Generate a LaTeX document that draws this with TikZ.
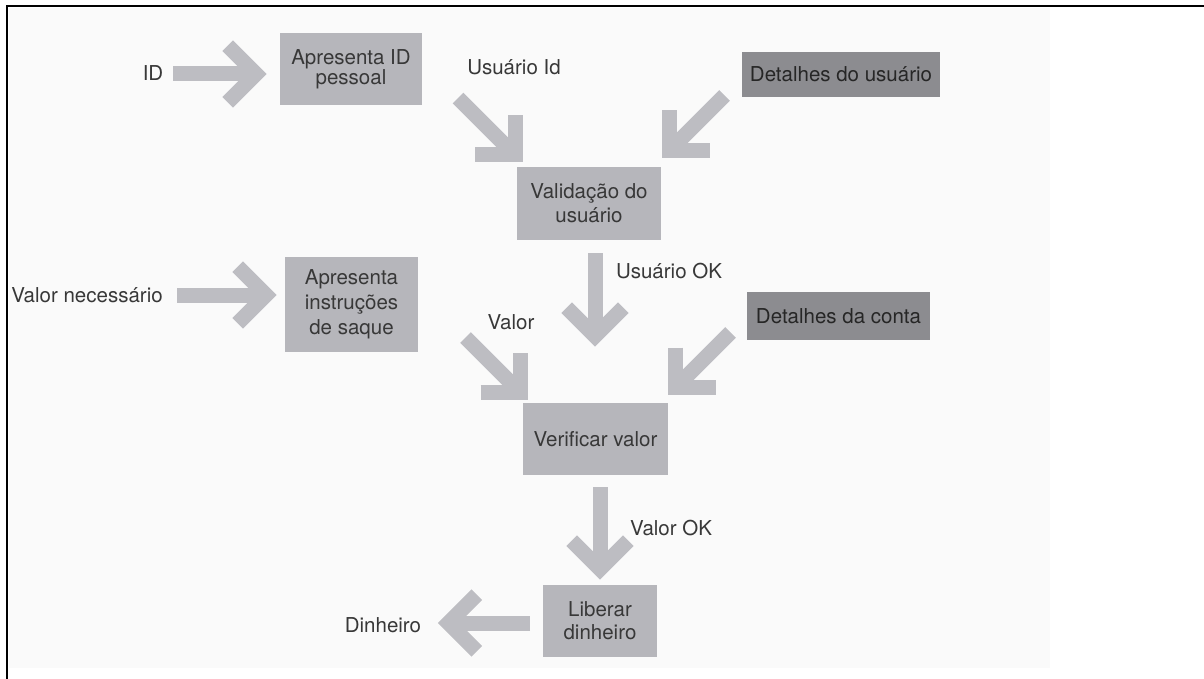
\documentclass[tikz,border=0pt]{standalone}
\usepackage{fontspec}
\setmainfont{TeX Gyre Heros}
\usetikzlibrary{calc}
\definecolor{arrowgray}{HTML}{BDBDC2}
\definecolor{boxgray}{HTML}{B6B6BB}
\definecolor{darkbox}{HTML}{8C8C90}
\definecolor{txt}{HTML}{383838}
\definecolor{paper}{HTML}{FAFAFA}
\tikzset{
  every node/.style={font=\fontsize{20.5}{22}\selectfont, text=txt},
  procbox/.style={fill=boxgray, inner sep=0pt, align=center},
  databox/.style={fill=darkbox, inner sep=0pt, align=center, text=black!85},
  lbl/.style={inner sep=0pt},
  fshaft/.style={draw=arrowgray, line width=15pt, line cap=butt},
  fchev/.style={draw=arrowgray, line width=15pt, line cap=butt, line join=miter},
}
\newcommand\fatarrow[2]{%
  \draw[fshaft] (#1) -- (#2);
  \draw[fchev] ($(#2)!40pt!45:(#1)$) -- (#2) -- ($(#2)!40pt!-45:(#1)$);
}
\begin{document}
\begin{tikzpicture}[x=1pt,y=-1pt]
\useasboundingbox (0,0) rectangle (1204,679);
\fill[paper] (9,8) rectangle (1050,668);
\draw[line width=2pt] (7,679) -- (7,6) -- (1204,6);

% process boxes
\node[procbox, minimum width=142pt, minimum height=72pt, font=\fontsize{20.5}{18}\selectfont] (b1) at (351,69) {Apresenta ID\\pessoal};
\node[procbox, minimum width=144pt, minimum height=73pt, font=\fontsize{20.5}{24}\selectfont] (b2) at (589,203.5) {Validação do\\usuário};
\node[procbox, minimum width=133pt, minimum height=95pt, font=\fontsize{20.5}{25}\selectfont] (b3) at (351.5,304.5) {Apresenta\\instruções\\de saque};
\node[procbox, minimum width=145pt, minimum height=72pt] (b4) at (595.5,439) {Verificar valor};
\node[procbox, minimum width=114pt, minimum height=72pt, font=\fontsize{20.5}{23}\selectfont] (b5) at (600,621) {Liberar\\dinheiro};
% data boxes
\node[databox, minimum width=198pt, minimum height=45pt] (d1) at (841,74.5) {Detalhes do usuário};
\node[databox, minimum width=183pt, minimum height=48pt] (d2) at (838.5,316) {Detalhes da conta};

% labels
\node[lbl] (lid) at (153,73) {ID};
\node[lbl] (luid) at (514,67) {Usuário Id};
\node[lbl] (lvn) at (87,295) {Valor necessário};
\node[lbl] (luok) at (669,271) {Usuário OK};
\node[lbl] (lval) at (511,322) {Valor};
\node[lbl] (lvok) at (671,528) {Valor OK};
\node[lbl] (ldin) at (383,625) {Dinheiro};

% arrow end points
\coordinate (a1s) at (173,74);   \coordinate (a1e) at (256,74);
\coordinate (a2s) at (458,98);   \coordinate (a2e) at (515,155);
\coordinate (a3s) at (724.5,95.5); \coordinate (a3e) at (669.5,150.5);
\coordinate (a4s) at (177,295);  \coordinate (a4e) at (266,295);
\coordinate (a5s) at (595,253);  \coordinate (a5e) at (595,336);
\coordinate (a6s) at (465.5,337.5); \coordinate (a6e) at (520.5,392.5);
\coordinate (a7s) at (730.5,332.5); \coordinate (a7e) at (675.5,387.5);
\coordinate (a8s) at (600,487);  \coordinate (a8e) at (600,569);
\coordinate (a9s) at (530,623);  \coordinate (a9e) at (448.5,623);

\fatarrow{a1s}{a1e}
\fatarrow{a2s}{a2e}
\fatarrow{a3s}{a3e}
\fatarrow{a4s}{a4e}
\fatarrow{a5s}{a5e}
\fatarrow{a6s}{a6e}
\fatarrow{a7s}{a7e}
\fatarrow{a8s}{a8e}
\fatarrow{a9s}{a9e}
\end{tikzpicture}
\end{document}
